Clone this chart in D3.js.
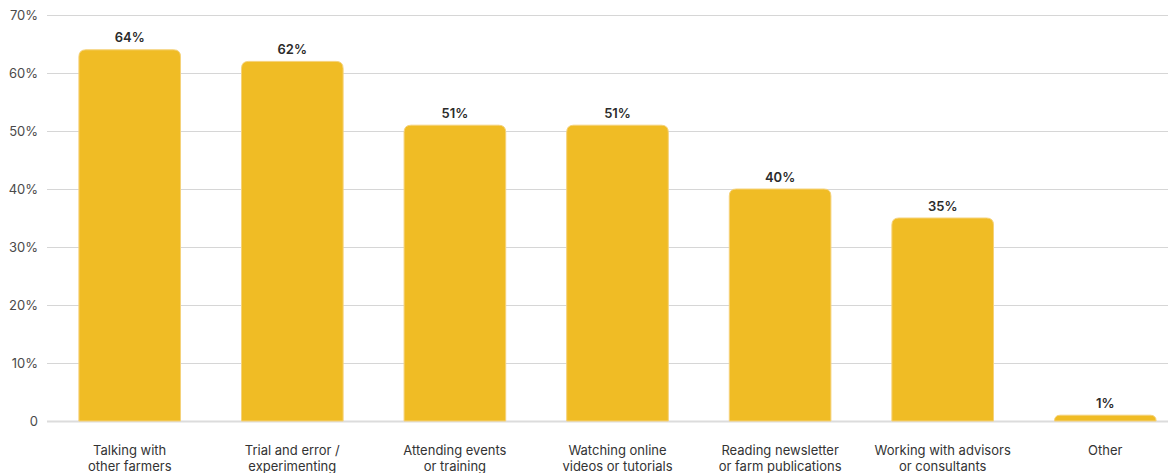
<!DOCTYPE html>
<html>
<head>
<meta charset="utf-8">
<script src="https://cdn.jsdelivr.net/npm/d3@7"></script>
<style>
  html, body { margin: 0; padding: 0; background: #fff; }
  svg { display: block; font-family: Inter, "Noto Sans", sans-serif; }
</style>
</head>
<body>
<svg id="chart" width="1168" height="473"></svg>
<script>
// Share of respondents by way of learning new practices
const categories = [
  ["Talking with", "other farmers"],
  ["Trial and error /", "experimenting"],
  ["Attending events", "or training"],
  ["Watching online", "videos or tutorials"],
  ["Reading newsletter", "or farm publications"],
  ["Working with advisors", "or consultants"],
  ["Other"]
];
const values = [64, 62, 51, 51, 40, 35, 1];
const yTicks = [0, 10, 20, 30, 40, 50, 60, 70];
const yTickLabels = ["0", "10%", "20%", "30%", "40%", "50%", "60%", "70%"];

const svg = d3.select("#chart");
const plotLeft = 48, plotRight = 1187, plotTop = 15, plotBottom = 421;

const x = d3.scaleBand()
  .domain(d3.range(categories.length))
  .range([plotLeft, plotRight])
  .paddingInner(0.375)
  .paddingOuter(0.19);

const y = d3.scaleLinear().domain([0, 70]).range([plotBottom, plotTop]);

// gridlines
svg.append("g")
  .selectAll("line")
  .data(yTicks)
  .join("line")
  .attr("x1", 47).attr("x2", 1168)
  .attr("y1", d => Math.round(y(d)) + 0.5)
  .attr("y2", d => Math.round(y(d)) + 0.5)
  .attr("stroke", d => d === 0 ? "#dcdcdc" : "#d6d6d6")
  .attr("stroke-width", d => d === 0 ? 2 : 1);

// y tick labels
svg.append("g")
  .selectAll("text")
  .data(yTicks)
  .join("text")
  .attr("x", 38)
  .attr("y", d => y(d))
  .attr("dy", "0.35em")
  .attr("text-anchor", "end")
  .attr("font-size", 13)
  .attr("fill", "#4a4a4a")
  .text((d, i) => yTickLabels[i]);

// bars with rounded top corners
const r = 7;
function barPath(x0, w, yTop, yBase) {
  const rr = Math.min(r, (yBase - yTop), w / 2);
  return `M${x0},${yBase}V${yTop + rr}Q${x0},${yTop} ${x0 + rr},${yTop}` +
         `H${x0 + w - rr}Q${x0 + w},${yTop} ${x0 + w},${yTop + rr}V${yBase}Z`;
}

svg.append("g")
  .selectAll("path")
  .data(values)
  .join("path")
  .attr("d", (d, i) => barPath(x(i), x.bandwidth(), y(d), y(0)))
  .attr("fill", "#f0bc25")
  .attr("stroke", "#f5d27a")
  .attr("stroke-width", 1);

// value labels
svg.append("g")
  .selectAll("text")
  .data(values)
  .join("text")
  .attr("x", (d, i) => x(i) + x.bandwidth() / 2)
  .attr("y", d => y(d) - 7.5)
  .attr("text-anchor", "middle")
  .attr("font-size", 13)
  .attr("font-weight", 600)
  .attr("fill", "#2b2b2b")
  .text(d => d + "%");

// category labels
const cat = svg.append("g")
  .selectAll("text")
  .data(categories)
  .join("text")
  .attr("x", (d, i) => x(i) + x.bandwidth() / 2)
  .attr("y", 455)
  .attr("text-anchor", "middle")
  .attr("font-size", 13)
  .attr("fill", "#333");
cat.selectAll("tspan")
  .data(d => d)
  .join("tspan")
  .attr("x", function () { return d3.select(this.parentNode).attr("x"); })
  .attr("dy", (d, i) => i === 0 ? 0 : 16)
  .text(d => d);
</script>
</body>
</html>
